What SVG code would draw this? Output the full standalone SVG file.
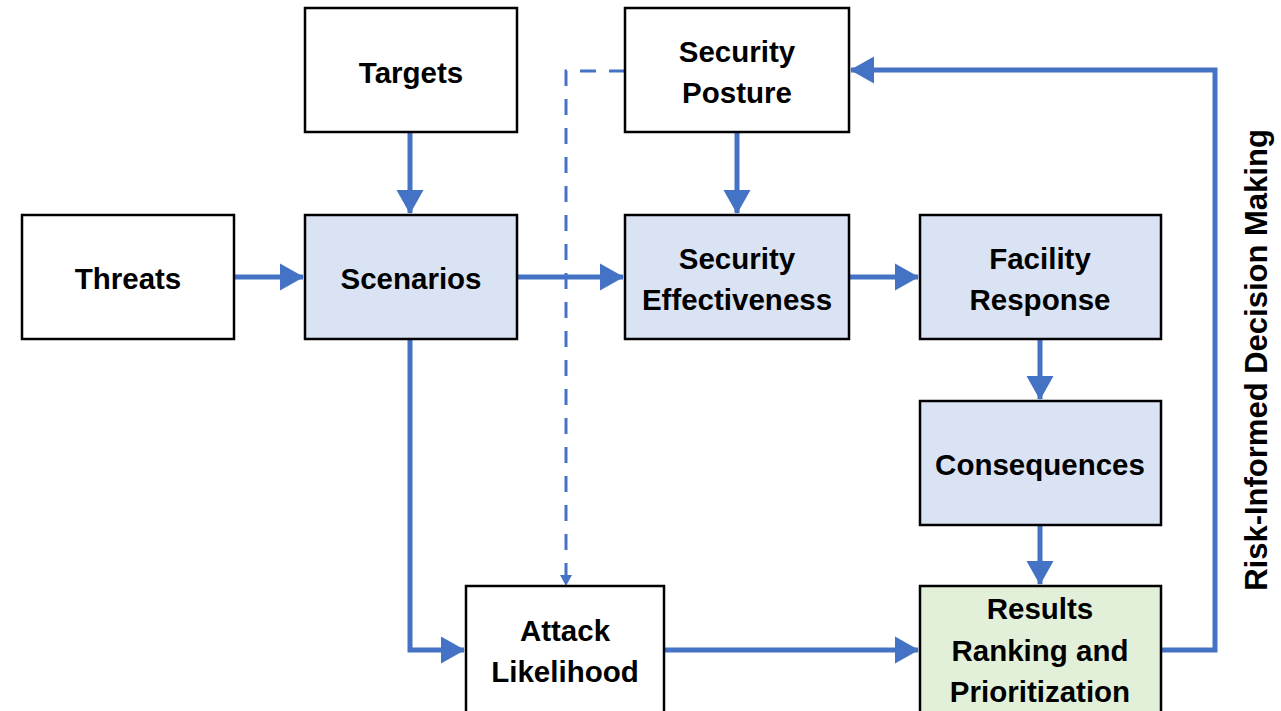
<svg xmlns="http://www.w3.org/2000/svg" width="1281" height="711" viewBox="0 0 1281 711">
<defs>
<marker id="ah" markerWidth="6" markerHeight="6" refX="4.6" refY="3" orient="auto" markerUnits="strokeWidth">
<path d="M0,0.3 L4.8,3 L0,5.7 z" fill="#4472C4"/>
</marker>
<style>
.box{stroke:#000;stroke-width:2.5}
.w{fill:#fff}.b{fill:#DAE3F3}.g{fill:#E2F0D9}
.t{font-family:"Liberation Sans",Arial,sans-serif;font-weight:bold;font-size:29.5px;text-anchor:middle;fill:#000}
.s{font-size:31px}
.c{fill:none;stroke:#4472C4;stroke-width:5}
.a{marker-end:url(#ah)}
.d{fill:none;stroke:#4472C4;stroke-width:3;stroke-dasharray:16 13}
</style>
</defs>
<rect width="1281" height="711" fill="#fff"/>
<g id="connectors">
<line class="c a" x1="410" y1="132" x2="410" y2="213"/>
<line class="c a" x1="234" y1="277" x2="303" y2="277"/>
<line class="c a" x1="517" y1="277" x2="623" y2="277"/>
<line class="c a" x1="737" y1="132" x2="737" y2="213"/>
<line class="c a" x1="849" y1="277" x2="918" y2="277"/>
<line class="c a" x1="1040" y1="339" x2="1040" y2="399"/>
<line class="c a" x1="1040" y1="525" x2="1040" y2="584"/>
<polyline class="c a" points="410,339 410,650 464,650"/>
<line class="c a" x1="664" y1="650" x2="918" y2="650"/>
<polyline class="c a" points="1161,650 1215,650 1215,70 851,70"/>
<polyline class="d" points="625,71 566,71 566,576"/>
<path d="M560,575 L566,586 L572,575 z" fill="#4472C4"/>
</g>
<g id="targets"><rect class="box w" x="305" y="8" width="212" height="124"/><text class="t" x="411" y="83">Targets</text></g>
<g id="threats"><rect class="box w" x="22" y="215" width="212" height="124"/><text class="t" x="128" y="289">Threats</text></g>
<g id="scenarios"><rect class="box b" x="305" y="215" width="212" height="124"/><text class="t" x="411" y="289">Scenarios</text></g>
<g id="security-posture"><rect class="box w" x="625" y="8" width="224" height="124"/><text class="t" x="737" y="62">Security</text><text class="t" x="737" y="103">Posture</text></g>
<g id="security-effectiveness"><rect class="box b" x="625" y="215" width="224" height="124"/><text class="t" x="737" y="269">Security</text><text class="t" x="737" y="310">Effectiveness</text></g>
<g id="facility-response"><rect class="box b" x="920" y="215" width="241" height="124"/><text class="t" x="1040" y="269">Facility</text><text class="t" x="1040" y="310">Response</text></g>
<g id="consequences"><rect class="box b" x="920" y="401" width="241" height="124"/><text class="t" x="1040" y="475">Consequences</text></g>
<g id="attack-likelihood"><rect class="box w" x="466" y="586" width="198" height="130"/><text class="t" x="565" y="641">Attack</text><text class="t" x="565" y="682">Likelihood</text></g>
<g id="results"><rect class="box g" x="920" y="586" width="241" height="130"/><text class="t" x="1040" y="619">Results</text><text class="t" x="1040" y="661">Ranking and</text><text class="t" x="1040" y="702">Prioritization</text></g>
<g id="side-label"><text class="t s" transform="translate(1267,360) rotate(-90)" x="0" y="0">Risk-Informed Decision Making</text></g>
</svg>
